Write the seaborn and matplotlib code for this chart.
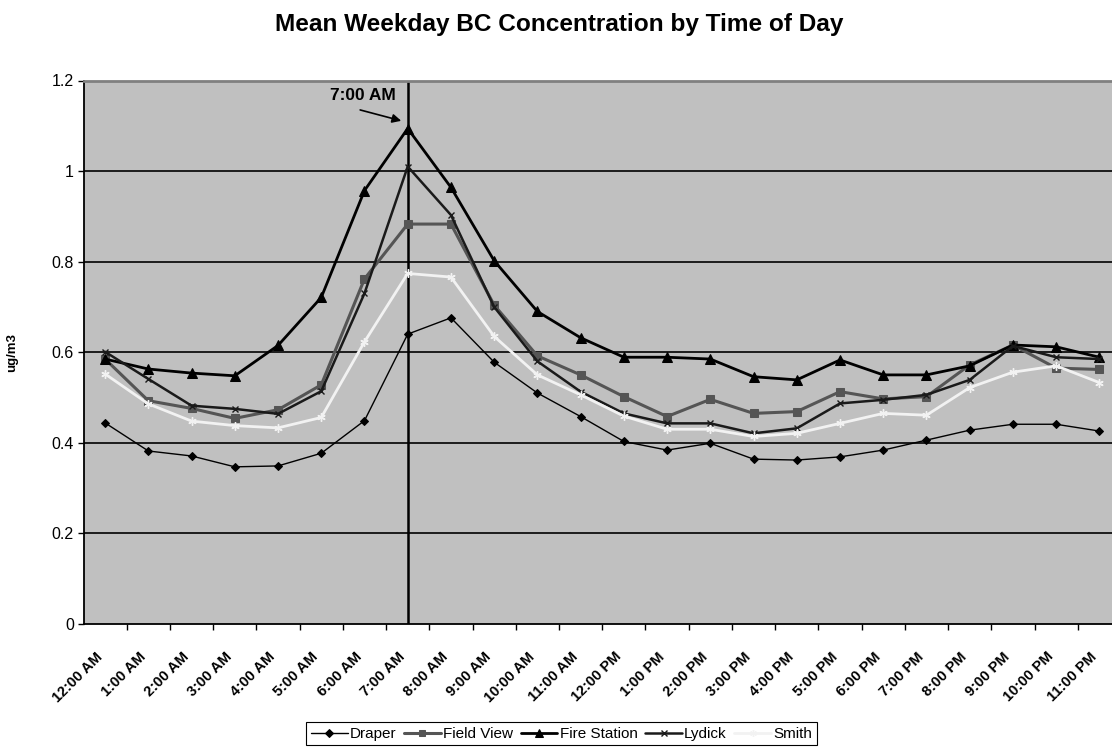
import numpy as np
import pandas as pd
import matplotlib
matplotlib.use('Agg')
import matplotlib.pyplot as plt
import matplotlib.transforms as mtrans
import seaborn as sns

# Tidspunkter (kategorier)
hours = ['12:00 AM', '1:00 AM', '2:00 AM', '3:00 AM', '4:00 AM', '5:00 AM',
         '6:00 AM', '7:00 AM', '8:00 AM', '9:00 AM', '10:00 AM', '11:00 AM',
         '12:00 PM', '1:00 PM', '2:00 PM', '3:00 PM', '4:00 PM', '5:00 PM',
         '6:00 PM', '7:00 PM', '8:00 PM', '9:00 PM', '10:00 PM', '11:00 PM']

# Målte verdier per stasjon (ug/m3)
draper = [0.444, 0.382, 0.371, 0.347, 0.349, 0.377, 0.449, 0.640, 0.676, 0.578,
          0.510, 0.458, 0.403, 0.384, 0.399, 0.364, 0.362, 0.369, 0.384, 0.406,
          0.428, 0.441, 0.441, 0.426]
field_view = [0.585, 0.493, 0.476, 0.454, 0.473, 0.528, 0.762, 0.883, 0.883, 0.704,
              0.592, 0.550, 0.502, 0.458, 0.496, 0.465, 0.469, 0.513, 0.497, 0.502,
              0.572, 0.616, 0.565, 0.562]
fire_station = [0.585, 0.563, 0.554, 0.548, 0.615, 0.721, 0.957, 1.094, 0.964, 0.802,
                0.690, 0.632, 0.589, 0.589, 0.585, 0.546, 0.539, 0.583, 0.550, 0.550,
                0.570, 0.616, 0.612, 0.589]
lydick = [0.601, 0.541, 0.482, 0.475, 0.464, 0.514, 0.730, 1.010, 0.903, 0.700,
          0.580, 0.513, 0.465, 0.443, 0.443, 0.421, 0.432, 0.487, 0.495, 0.506,
          0.539, 0.614, 0.589, 0.585]
smith = [0.552, 0.486, 0.448, 0.438, 0.433, 0.456, 0.623, 0.774, 0.766, 0.635,
         0.550, 0.506, 0.459, 0.430, 0.430, 0.414, 0.421, 0.443, 0.465, 0.461,
         0.522, 0.556, 0.570, 0.533]

sites = ['Draper', 'Field View', 'Fire Station', 'Lydick', 'Smith']
values = [draper, field_view, fire_station, lydick, smith]

# Langt format for seaborn
df = pd.DataFrame({'idx': np.arange(len(hours)), 'hour': hours})
long_df = pd.concat(
    [df.assign(site=s, value=v) for s, v in zip(sites, values)],
    ignore_index=True)

sns.set_style('white', {'axes.facecolor': '#C0C0C0'})
plt.rcParams['font.family'] = ['Liberation Sans', 'DejaVu Sans']
plt.rcParams.update({'text.color': 'black', 'axes.labelcolor': 'black',
                     'xtick.color': 'black', 'ytick.color': 'black'})

styles = {
    'Draper': dict(color='black', marker='D', markersize=4.5, lw=1.0),
    'Field View': dict(color='#555555', marker='s', markersize=6, lw=2.2),
    'Fire Station': dict(color='black', marker='^', markersize=7, lw=2.0),
    'Lydick': dict(color='#1a1a1a', marker='x', markersize=5, lw=1.8, mew=1.0),
    'Smith': dict(color='#f2f2f2', marker=(6, 2, 0), markersize=6, lw=2.0, mew=1.0),
}

fig = plt.figure(figsize=(11.12, 7.5), dpi=100)
ax = fig.add_axes([83.5 / 1112, 126 / 750, 1037.5 / 1112, 543.5 / 750])

# Rutenett
for yv in np.arange(0.2, 1.21, 0.2):
    ax.axhline(yv, color='black', lw=1.2, zorder=0)

peak_idx = hours.index('7:00 AM')
ax.axvline(peak_idx, color='black', lw=1.8, zorder=1)

for s in sites:
    sub = long_df[long_df['site'] == s]
    st = styles[s]
    sns.lineplot(data=sub, x='idx', y='value', ax=ax, label=s, zorder=3,
                 estimator=None, mec=st['color'], mfc=st['color'], **st)

ax.set_xlim(-0.5, len(hours) - 0.5)
ax.set_ylim(0, 1.2)
ax.set_yticks(np.arange(0, 1.21, 0.2))
ax.set_yticklabels(['0', '0.2', '0.4', '0.6', '0.8', '1', '1.2'], fontsize=11.5)
ax.tick_params(axis='y', direction='out', length=4, width=1, pad=3, left=True)

ax.set_xticks(np.arange(len(hours)))
ax.set_xticklabels(hours, rotation=45, ha='right', va='center',
                   rotation_mode='anchor', fontsize=10.5, fontweight='bold')
ax.set_xticks(np.arange(0.5, len(hours) - 0.5, 1), minor=True)
ax.tick_params(axis='x', which='major', length=0, pad=22)
ax.tick_params(axis='x', which='minor', direction='out', length=4, width=1,
               bottom=True)
shift = mtrans.ScaledTranslation(-5 / 100, 0, fig.dpi_scale_trans)
for lbl in ax.get_xticklabels():
    lbl.set_transform(lbl.get_transform() + shift)

ax.set_xlabel('')
ax.set_ylabel('ug/m3', fontsize=9.5, fontweight='bold')
ax.yaxis.set_label_coords(-(83.5 - 18) / 1037.5, (624 - 353) / 543.5)

for side in ['left', 'bottom']:
    ax.spines[side].set_color('black')
    ax.spines[side].set_linewidth(1.3)
ax.spines['top'].set_color('#808080')
ax.spines['top'].set_linewidth(2)
ax.spines['right'].set_visible(False)

# Merknad for morgentoppen
ax.text(peak_idx - 1.04, 1.166, '7:00 AM', ha='center', va='center',
        fontsize=12.5, fontweight='bold')
ax.annotate('', xy=(peak_idx - 0.15, 1.111), xytext=(peak_idx - 1.1, 1.135),
            arrowprops=dict(arrowstyle='-|>', color='black', lw=1.2,
                            shrinkA=0, shrinkB=0, mutation_scale=13))

fig.text(0.503, 1 - 25 / 750, 'Mean Weekday BC Concentration by Time of Day',
         ha='center', va='center', fontsize=17.6, fontweight='bold')

ax.legend_.remove()
handles, labels = ax.get_legend_handles_labels()
leg = fig.legend(handles, labels, loc='lower center', ncol=5,
                 bbox_to_anchor=(0.505, 0.002), fontsize=11, frameon=True,
                 fancybox=False, edgecolor='black', facecolor='white',
                 framealpha=1, handlelength=2.4, handletextpad=0.15,
                 columnspacing=0.5, borderpad=0.3, borderaxespad=0.2,
                 markerscale=0.8)
leg.get_frame().set_linewidth(0.8)

fig.savefig('out.png', dpi=100)
